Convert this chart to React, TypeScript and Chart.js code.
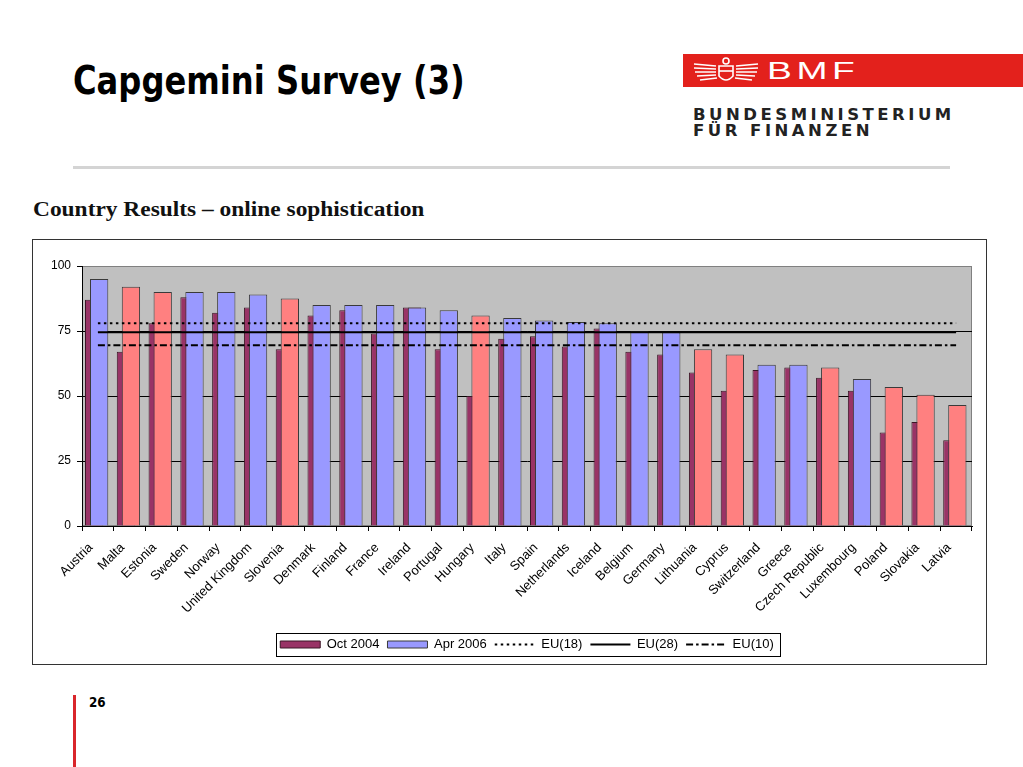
import React, { useEffect, useRef } from "react";
import { Chart, registerables } from "chart.js";

Chart.register(...registerables);

// ---- data ----
const categories = [
  "Austria", "Malta", "Estonia", "Sweden", "Norway", "United Kingdom", "Slovenia",
  "Denmark", "Finland", "France", "Ireland", "Portugal", "Hungary", "Italy", "Spain",
  "Netherlands", "Iceland", "Belgium", "Germany", "Lithuania", "Cyprus", "Switzerland",
  "Greece", "Czech Republic", "Luxembourg", "Poland", "Slovakia", "Latvia",
];
const oct2004 = [87, 67, 78, 88, 82, 84, 68, 81, 83, 74, 84, 68, 50, 72, 73, 69, 76, 67, 66, 59, 52, 60, 61, 57, 52, 36, 40, 33];
const apr2006 = [95, 92, 90, 90, 90, 89, 87.5, 85, 85, 85, 84, 83, 81, 80, 79, 78.5, 78, 75, 74.5, 68, 66, 62, 62, 61, 56.5, 53.5, 50.5, 46.5];
const newMemberStates = ["Malta", "Estonia", "Slovenia", "Hungary", "Lithuania", "Cyprus", "Czech Republic", "Poland", "Slovakia", "Latvia"];
const eu18 = 78;
const eu28 = 74.5;
const eu10 = 69.5;
const yTickValues = [0, 25, 50, 75, 100];

// ---- styles ----
const OCT_COLOR = "#993366";
const BLUE = "#9999FF";
const RED = "#FF8080";
const Y_TICK_FONT = { family: "'Liberation Sans', Arial, sans-serif", size: 12 };
const X_TICK_FONT = { family: "'Liberation Sans', Arial, sans-serif", size: 13 };
const LEGEND_FONT = { family: "'Liberation Sans', Arial, sans-serif", size: 13 };
const CAT_PCT = 0.3146;
const BAR_PCT = 7.32;

const plotBg = {
  id: "plotBg",
  beforeDraw(chart: any) {
    const { ctx, chartArea: a } = chart;
    ctx.save();
    ctx.fillStyle = "#C0C0C0";
    ctx.fillRect(a.left, a.top, a.right - a.left, a.bottom - a.top);
    ctx.strokeStyle = "#808080";
    ctx.lineWidth = 1;
    ctx.strokeRect(Math.round(a.left) + 0.5, Math.round(a.top) + 0.5, Math.round(a.right - a.left) - 1, Math.round(a.bottom - a.top) - 1);
    ctx.restore();
  },
};

// centre the legend under the plot area (as in the original) and frame it
const legendBox = {
  id: "legendBox",
  afterLayout(chart: any) {
    if (chart.legend && chart.chartArea) {
      chart.legend.left = chart.chartArea.left;
      chart.legend.width = chart.legend.right - chart.legend.left;
    }
  },
  afterDraw(chart: any) {
    const lg = chart.legend;
    const hb = lg && lg.legendHitBoxes;
    if (!hb || !hb.length) return;
    const first = hb[0];
    const last = hb[hb.length - 1];
    const l = Math.round(first.left - 4);
    const r = Math.round(last.left + last.width + 6);
    const cy = first.top + first.height / 2;
    const { ctx } = chart;
    ctx.save();
    ctx.strokeStyle = "#000";
    ctx.lineWidth = 1;
    ctx.setLineDash([]);
    ctx.strokeRect(l + 0.5, Math.round(cy - 11.5) + 0.5, r - l, 23);
    ctx.restore();
  },
};

export default function App() {
  const ref = useRef<HTMLCanvasElement>(null);

  useEffect(() => {
    const first = categories[0];
    const last = categories[categories.length - 1];
    const lineDs = (label: string, value: number, dash: number[]) => ({
      type: "line" as const,
      label,
      data: [{ x: first, y: value }, { x: last, y: value }],
      xAxisID: "x",
      yAxisID: "y",
      borderColor: "#000",
      backgroundColor: "#000",
      borderWidth: 2,
      borderDash: dash,
      borderCapStyle: "butt",
      pointRadius: 0,
      fill: false,
      tension: 0,
      order: 0,
    });
    const barCommon = {
      type: "bar" as const,
      yAxisID: "y",
      categoryPercentage: CAT_PCT,
      barPercentage: BAR_PCT,
      borderWidth: 1,
      borderSkipped: "start",
    };

    const chart = new Chart(ref.current as HTMLCanvasElement, {
      type: "bar",
      data: {
        labels: categories,
        datasets: [
          { ...barCommon, label: "Oct 2004", data: oct2004, xAxisID: "x", backgroundColor: OCT_COLOR, borderColor: "#3b1626", order: 3 },
          { ...barCommon, label: "", data: [], xAxisID: "x", order: 4 },
          { ...barCommon, label: "", data: [], xAxisID: "x2", order: 1 },
          {
            ...barCommon,
            label: "Apr 2006",
            data: apr2006,
            xAxisID: "x2",
            backgroundColor: categories.map((c) => (newMemberStates.includes(c) ? RED : BLUE)),
            borderColor: "#3a3a3a",
            order: 2,
          },
          lineDs("EU(18)", eu18, [2.5, 3.5]),
          lineDs("EU(28)", eu28, []),
          lineDs("EU(10)", eu10, [7, 3, 2.5, 3]),
        ] as any,
      },
      options: {
        responsive: false,
        animation: false,
        events: [],
        layout: { padding: { left: 8, right: 14, top: 26, bottom: 3 } },
        scales: {
          x: {
            type: "category",
            position: "bottom",
            offset: true,
            grid: { drawOnChartArea: false, drawTicks: true, tickLength: 5, color: "#000", offset: true },
            border: { color: "#000", width: 1 },
            ticks: { font: X_TICK_FONT, color: "#000", minRotation: 45, maxRotation: 45, autoSkip: false, padding: 9, labelOffset: -7 },
            afterFit: (s: any) => { s.height = 104; },
          },
          x2: {
            type: "category",
            position: "bottom",
            offset: true,
            display: false,
          },
          y: {
            type: "linear",
            min: 0,
            max: 100,
            afterBuildTicks: (s: any) => { s.ticks = yTickValues.map((v) => ({ value: v })); },
            ticks: { font: Y_TICK_FONT, color: "#000", padding: 6 },
            grid: {
              color: (c: any) => (c.tick && c.tick.value === 100 ? "#808080" : "#000"),
              tickColor: "#000",
              tickLength: 5,
              drawTicks: true,
              lineWidth: 1,
            },
            border: { color: "#000", width: 1 },
            afterFit: (s: any) => { s.width = 41; },
          },
        },
        plugins: {
          tooltip: { enabled: false },
          legend: {
            position: "bottom",
            align: "center",
            labels: {
              usePointStyle: true,
              pointStyleWidth: 40,
              boxHeight: 7,
              padding: 8,
              font: LEGEND_FONT,
              color: "#000",
              generateLabels: (ch: any) => {
                const items = (Chart.defaults.plugins.legend.labels as any).generateLabels(ch);
                return items
                  .filter((it: any) => it.text && it.text !== "")
                  .map((it: any) => {
                    const ds = ch.data.datasets[it.datasetIndex];
                    if (ds.type === "line") {
                      it.pointStyle = "line";
                      it.lineDash = ds.borderDash || [];
                      it.strokeStyle = ds.borderColor;
                      it.fillStyle = ds.borderColor;
                      it.lineWidth = ds.borderWidth;
                    } else {
                      it.pointStyle = "rect";
                      it.lineDash = [];
                      it.lineWidth = 1;
                      it.strokeStyle = ds.borderColor;
                    }
                    return it;
                  })
                  .sort((a: any, b: any) => a.datasetIndex - b.datasetIndex);
              },
            },
          },
        },
      } as any,
      plugins: [plotBg, legendBox],
    });
    return () => chart.destroy();
  }, []);

  return (
    <div style={{ position: "absolute", left: 0, top: 0, width: 1023, height: 767, background: "#fff", overflow: "hidden" }}>
      {/* slide title */}
      <div
        style={{
          position: "absolute", left: 73, top: 62.4, whiteSpace: "nowrap",
          fontFamily: "'DejaVu Sans', Verdana, sans-serif", fontWeight: 700, fontSize: 38.5, lineHeight: 1,
          transform: "scaleX(0.836)", transformOrigin: "left top", color: "#000",
        }}
      >
        Capgemini Survey (3)
      </div>

      {/* BMF logo */}
      <div style={{ position: "absolute", left: 683, top: 54, width: 340, height: 33, background: "#E3211C" }} />
      <svg style={{ position: "absolute", left: 692, top: 56 }} width="68" height="29" viewBox="0 0 68 29">
        <g stroke="#fff" strokeWidth="1.6" fill="none">
          <path d="M2 8 L24 10 M2 12 L24 13 M3 16 L24 16 M5 20 L24 19 M8 24 L25 22" />
          <path d="M66 8 L44 10 M66 12 L44 13 M65 16 L44 16 M63 20 L44 19 M60 24 L43 22" />
          <path d="M27 10 L41 10 L41 20 Q34 28 27 20 Z" />
          <path d="M27 15 L41 15" />
          <circle cx="34" cy="5" r="3" />
        </g>
      </svg>
      <div
        style={{
          position: "absolute", left: 767, top: 59, whiteSpace: "nowrap", color: "#fff",
          fontFamily: "'Liberation Sans', Arial, sans-serif", fontWeight: 400, fontSize: 24, lineHeight: 1,
          letterSpacing: 3, transform: "scaleX(1.55)", transformOrigin: "left top",
        }}
      >
        BMF
      </div>
      <div
        style={{
          position: "absolute", left: 693, top: 107, whiteSpace: "nowrap", color: "#222",
          fontFamily: "'DejaVu Sans', Verdana, sans-serif", fontWeight: 700, fontSize: 16.5, lineHeight: "16px",
          letterSpacing: 3.5,
        }}
      >
        BUNDESMINISTERIUM
        <br />
        FÜR FINANZEN
      </div>

      {/* separator rule */}
      <div style={{ position: "absolute", left: 73, top: 166, width: 877, height: 3, background: "#D4D4D4" }} />

      {/* chart heading */}
      <div
        style={{
          position: "absolute", left: 33, top: 199, whiteSpace: "nowrap", color: "#111",
          fontFamily: "'Liberation Serif', 'Times New Roman', serif", fontWeight: 700, fontSize: 20, lineHeight: 1,
          transform: "scaleX(1.17)", transformOrigin: "left top",
        }}
      >
        Country Results – online sophistication
      </div>

      {/* chart frame */}
      <div style={{ position: "absolute", left: 32, top: 239, width: 955, height: 426, border: "1.5px solid #333", boxSizing: "border-box" }} />
      <canvas ref={ref} width={953} height={424} style={{ position: "absolute", left: 33, top: 240, width: 953, height: 424 }} />

      {/* footer */}
      <div style={{ position: "absolute", left: 73, top: 695, width: 3, height: 72, background: "#D9262B" }} />
      <div
        style={{
          position: "absolute", left: 88.5, top: 695, whiteSpace: "nowrap", color: "#000",
          fontFamily: "'DejaVu Sans', Verdana, sans-serif", fontWeight: 700, fontSize: 14.6, lineHeight: 1,
          transform: "scaleX(0.82)", transformOrigin: "left top",
        }}
      >
        26
      </div>
    </div>
  );
}
